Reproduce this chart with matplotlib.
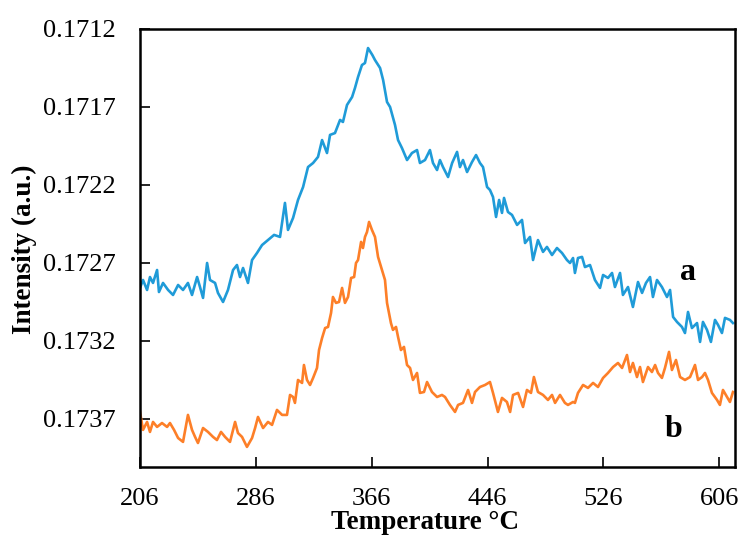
import matplotlib
matplotlib.use("Agg")
import matplotlib.pyplot as plt

plt.rcParams['font.family'] = ['Liberation Serif', 'DejaVu Serif']

# courbe a (bleue)
temp_a = [206.3, 208.4, 211.2, 213.2, 215.3, 218.1, 219.4, 222.2, 225.7, 229.1,
          232.6, 236.0, 239.4, 242.2, 245.7, 247.7, 249.8, 252.6, 254.6, 258.1,
          260.1, 263.6, 267.0, 270.5, 273.2, 275.3, 277.4, 280.8, 283.6, 287.0,
          290.5, 294.6, 298.8, 302.9, 306.3, 308.4, 311.9, 315.3, 318.8, 322.2,
          325.7, 329.1, 331.9, 335.3, 337.4, 340.8, 344.3, 346.3, 349.1, 352.6,
          354.6, 356.7, 359.4, 361.5, 363.6, 366.6, 368.4, 371.9, 374.0, 376.7,
          378.8, 382.2, 384.3, 387.0, 390.5, 393.9, 397.4, 399.4, 402.9, 406.3,
          408.4, 411.2, 413.2, 415.3, 418.8, 421.6, 425.0, 427.0, 429.1, 431.9,
          435.3, 438.1, 440.8, 442.9, 445.7, 447.7, 449.8, 451.9, 454.0, 456.0,
          457.4, 460.1, 462.9, 466.4, 469.8, 471.9, 475.3, 477.4, 480.8, 484.3,
          487.0, 490.5, 493.9, 497.4, 500.8, 502.9, 505.0, 506.3, 508.4, 511.2,
          513.2, 516.7, 520.1, 523.6, 525.7, 529.1, 531.9, 533.9, 537.4, 539.4,
          542.9, 546.3, 549.8, 552.6, 555.3, 558.1, 560.1, 562.9, 566.3, 569.8,
          571.9, 574.0, 576.7, 580.1, 582.2, 584.3, 587.0, 590.5, 592.6, 594.6,
          597.4, 600.1, 602.9, 605.0, 607.7, 609.8, 613.2, 615.3]
int_a = [0.172860, 0.172809, 0.172873, 0.172790, 0.172828, 0.172745, 0.172886, 0.172828, 0.172873, 0.172905,
         0.172841, 0.172873, 0.172828, 0.172905, 0.172790, 0.172854, 0.172924, 0.172700, 0.172809, 0.172828,
         0.172892, 0.172950, 0.172873, 0.172745, 0.172713, 0.172790, 0.172732, 0.172828, 0.172681, 0.172636,
         0.172585, 0.172553, 0.172520, 0.172533, 0.172315, 0.172488, 0.172411, 0.172296, 0.172213, 0.172085,
         0.172059, 0.172020, 0.171912, 0.171995, 0.171879, 0.171867, 0.171783, 0.171796, 0.171687, 0.171636,
         0.171578, 0.171508, 0.171431, 0.171418, 0.171322, 0.171367, 0.171399, 0.171450, 0.171527, 0.171668,
         0.171700, 0.171815, 0.171912, 0.171963, 0.172040, 0.171995, 0.171976, 0.172059, 0.172040, 0.171976,
         0.172059, 0.172104, 0.172040, 0.172085, 0.172149, 0.172059, 0.171988, 0.172085, 0.172040, 0.172117,
         0.172053, 0.172008, 0.172059, 0.172085, 0.172213, 0.172232, 0.172277, 0.172405, 0.172296, 0.172379,
         0.172283, 0.172373, 0.172392, 0.172456, 0.172424, 0.172572, 0.172533, 0.172681, 0.172553, 0.172629,
         0.172597, 0.172649, 0.172604, 0.172636, 0.172681, 0.172700, 0.172668, 0.172764, 0.172668, 0.172661,
         0.172726, 0.172713, 0.172809, 0.172860, 0.172777, 0.172796, 0.172764, 0.172854, 0.172764, 0.172905,
         0.172854, 0.172982, 0.172822, 0.172892, 0.172828, 0.172790, 0.172918, 0.172809, 0.172854, 0.172918,
         0.172873, 0.173046, 0.173078, 0.173110, 0.173149, 0.173014, 0.173117, 0.173085, 0.173206, 0.173078,
         0.173129, 0.173206, 0.173065, 0.173097, 0.173149, 0.173052, 0.173065, 0.173085]

# courbe b (orange)
temp_b = [206.3, 208.4, 211.2, 213.2, 215.3, 218.1, 221.5, 225.0, 227.0, 229.8,
          232.6, 236.0, 239.4, 242.2, 244.3, 246.3, 249.8, 253.2, 256.7, 259.4,
          262.2, 265.0, 268.4, 271.9, 273.9, 276.7, 280.1, 283.6, 285.7, 287.7,
          291.2, 294.6, 297.4, 300.8, 304.3, 307.7, 309.8, 311.9, 313.2, 315.3,
          318.1, 319.4, 321.5, 323.6, 325.7, 328.4, 329.8, 331.9, 334.0, 336.0,
          338.1, 339.4, 341.5, 343.6, 345.7, 347.7, 349.8, 351.9, 354.0, 355.3,
          356.7, 358.8, 360.1, 361.5, 362.9, 364.3, 366.3, 368.4, 370.5, 373.2,
          375.3, 376.7, 379.4, 380.8, 382.9, 384.3, 386.3, 388.4, 390.5, 392.6,
          394.6, 397.4, 399.4, 402.2, 404.3, 407.7, 411.2, 414.6, 416.7, 420.1,
          423.6, 425.7, 429.1, 432.6, 435.3, 437.4, 440.8, 444.3, 447.7, 449.8,
          453.2, 456.0, 459.4, 461.6, 463.6, 467.1, 470.5, 473.2, 476.0, 478.0,
          480.8, 484.3, 487.7, 490.5, 492.6, 496.0, 499.4, 501.5, 505.0, 506.3,
          508.4, 511.9, 515.3, 518.8, 522.2, 525.7, 529.1, 532.6, 536.0, 538.8,
          542.2, 544.3, 546.3, 549.1, 551.2, 553.2, 556.7, 559.4, 561.6, 563.6,
          566.3, 568.4, 571.2, 573.2, 576.0, 578.8, 582.2, 585.7, 589.1, 591.2,
          594.0, 596.0, 598.1, 600.8, 604.3, 606.3, 608.4, 611.2, 613.2, 615.3]
int_b = [0.173655, 0.173770, 0.173719, 0.173783, 0.173719, 0.173751, 0.173726, 0.173751, 0.173726, 0.173770,
         0.173822, 0.173847, 0.173674, 0.173770, 0.173815, 0.173854, 0.173758, 0.173783, 0.173815, 0.173835,
         0.173783, 0.173815, 0.173847, 0.173719, 0.173790, 0.173815, 0.173879, 0.173822, 0.173758, 0.173687,
         0.173758, 0.173719, 0.173738, 0.173642, 0.173674, 0.173674, 0.173546, 0.173559, 0.173597, 0.173450,
         0.173469, 0.173354, 0.173450, 0.173482, 0.173437, 0.173373, 0.173258, 0.173181, 0.173117, 0.173110,
         0.173020, 0.172918, 0.172956, 0.172950, 0.172860, 0.172956, 0.172918, 0.172796, 0.172790, 0.172700,
         0.172681, 0.172565, 0.172604, 0.172533, 0.172501, 0.172437, 0.172488, 0.172533, 0.172661, 0.172745,
         0.172809, 0.172956, 0.173085, 0.173129, 0.173110, 0.173174, 0.173258, 0.173238, 0.173354, 0.173373,
         0.173450, 0.173405, 0.173533, 0.173527, 0.173463, 0.173527, 0.173559, 0.173546, 0.173559, 0.173610,
         0.173655, 0.173610, 0.173597, 0.173514, 0.173597, 0.173527, 0.173495, 0.173482, 0.173463, 0.173533,
         0.173655, 0.173565, 0.173591, 0.173655, 0.173546, 0.173533, 0.173623, 0.173514, 0.173533, 0.173431,
         0.173527, 0.173546, 0.173578, 0.173546, 0.173597, 0.173546, 0.173597, 0.173610, 0.173591, 0.173597,
         0.173533, 0.173482, 0.173501, 0.173469, 0.173495, 0.173437, 0.173405, 0.173367, 0.173341, 0.173373,
         0.173290, 0.173399, 0.173341, 0.173431, 0.173367, 0.173463, 0.173367, 0.173399, 0.173354, 0.173405,
         0.173437, 0.173373, 0.173270, 0.173386, 0.173322, 0.173431, 0.173450, 0.173431, 0.173354, 0.173450,
         0.173431, 0.173405, 0.173450, 0.173533, 0.173578, 0.173610, 0.173514, 0.173559, 0.173591, 0.173527]

x_ticks = [206, 286, 366, 446, 526, 606]
y_ticks = [0.1712, 0.1717, 0.1722, 0.1727, 0.1732, 0.1737]

fig = plt.figure(figsize=(7.41, 5.36), dpi=100)
ax = fig.add_axes([0.1883, 0.1287, 0.8036, 0.8172])

ax.plot(temp_a, int_a, color='#1f9bd8', linewidth=1.9)
ax.plot(temp_b, int_b, color='#fd7f28', linewidth=1.9)

ax.text(584.3, 0.172809, 'a', fontsize=23, fontweight='bold', ha='center', va='baseline')
ax.text(574.3, 0.173815, 'b', fontsize=23, fontweight='bold', ha='center', va='baseline')

ax.set_xlim(206, 616.7)
ax.set_ylim(0.174008, 0.1712)
ax.set_xticks(x_ticks)
ax.set_xticklabels([str(t) for t in x_ticks])
ax.set_yticks(y_ticks)
ax.set_yticklabels([f"{v:.4f}" for v in y_ticks])

ax.tick_params(direction='in', length=7, width=1.2, labelsize=19)
ax.tick_params(axis='y', pad=17)
ax.tick_params(axis='x', pad=15)
for s in ax.spines.values():
    s.set_linewidth(1.8)

ax.set_xlabel('Temperature °C', fontsize=19.5, fontweight='bold', va='center')
ax.xaxis.set_label_coords(0.479, -0.1256)
ax.set_ylabel('Intensity (a.u.)', fontsize=19.5, fontweight='bold', va='center')
ax.yaxis.set_label_coords(-0.194, 0.4966)

fig.savefig('out.png', dpi=100)
